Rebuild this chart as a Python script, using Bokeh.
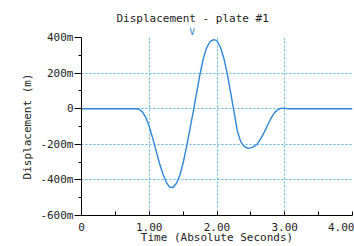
from bokeh.plotting import figure
from bokeh.models import Range1d, FixedTicker, Title
from bokeh.embed import file_html
from bokeh.resources import INLINE

# Time (s)
time_s = [0.00, 0.80, 0.85, 0.90, 0.95, 1.00, 1.05, 1.10, 1.15, 1.20, 1.25,
          1.30, 1.35, 1.40, 1.45, 1.50, 1.55, 1.60, 1.65, 1.70, 1.75, 1.80,
          1.85, 1.90, 1.95, 2.00, 2.05, 2.10, 2.15, 2.20, 2.25, 2.30, 2.35,
          2.40, 2.45, 2.50, 2.55, 2.60, 2.65, 2.70, 2.75, 2.80, 2.85, 2.90,
          2.95, 3.00, 3.05, 4.00]
# Displacement (milli-m)
disp_mm = [0, 0, -3, -18, -50, -100, -165, -235, -305, -365, -412,
           -440, -443, -420, -375, -305, -215, -115, -15, 90, 195, 285,
           345, 378, 388, 382, 345, 285, 200, 95, -15, -125, -185,
           -212, -222, -220, -212, -195, -165, -130, -90, -52, -22, -5,
           3, 2, 0, 0]

x_ticks = [0, 1, 2, 3, 4]
x_minor = [0.5, 1.5, 2.5, 3.5]
x_tick_labels = ["0", "1.00", "2.00", "3.00", "4.00"]
y_ticks = [-600, -400, -200, 0, 200, 400]
y_minor = [-500, -300, -100, 100, 300]
y_tick_labels = ["-600m", "-400m", "-200m", "0", "200m", "400m"]

FONT = "DejaVu Sans Mono"
GRID = "#5ab2e8"
LINE = "#2f86d6"

p = figure(width=354, height=246, output_backend="svg", toolbar_location=None,
           x_range=Range1d(0, 4), y_range=Range1d(-600, 400),
           min_border_left=81, min_border_right=2, min_border_top=37,
           min_border_bottom=30)
p.outline_line_color = None
p.background_fill_color = "white"
p.border_fill_color = "white"

p.title = Title(text="Displacement - plate #1", align="left", offset=35,
                text_font=FONT, text_font_size="11px", text_font_style="normal",
                text_color="#222222", standoff=0)

# cursor marker above the plot
p.add_layout(Title(text="V", align="left", offset=108, text_color=LINE,
                   text_font=FONT, text_font_size="9px",
                   text_font_style="normal", standoff=1), "above")

p.line(time_s, disp_mm, line_color=LINE, line_width=1.4)

xa = p.xaxis[0]
xa.ticker = FixedTicker(ticks=x_ticks, minor_ticks=x_minor)
xa.major_label_overrides = {t: l for t, l in zip(x_ticks, x_tick_labels)}
xa.axis_label = "Time (Absolute Seconds)"
xa.major_tick_in = 4
xa.major_tick_out = 0
xa.minor_tick_in = 4
xa.minor_tick_out = 0
xa.major_label_standoff = 7
xa.axis_label_standoff = -3

ya = p.yaxis[0]
ya.ticker = FixedTicker(ticks=y_ticks, minor_ticks=y_minor)
ya.major_label_overrides = {t: l for t, l in zip(y_ticks, y_tick_labels)}
ya.axis_label = "Displacement (m)"
ya.major_tick_in = 0
ya.major_tick_out = 7
ya.minor_tick_in = 0
ya.minor_tick_out = 3
ya.major_label_standoff = 1
ya.axis_label_standoff = 3

for ax in (xa, ya):
    ax.axis_line_color = "black"
    ax.major_tick_line_color = "black"
    ax.minor_tick_line_color = "black"
    ax.major_label_text_font = FONT
    ax.major_label_text_font_size = "11px"
    ax.major_label_text_color = "#222222"
    ax.axis_label_text_font = FONT
    ax.axis_label_text_font_size = "11px"
    ax.axis_label_text_font_style = "normal"
    ax.axis_label_text_color = "#222222"

for g in (p.xgrid[0], p.ygrid[0]):
    g.grid_line_color = GRID
    g.grid_line_dash = "2 2"
    g.grid_line_width = 1

open("out.html", "w").write(file_html(p, INLINE))
